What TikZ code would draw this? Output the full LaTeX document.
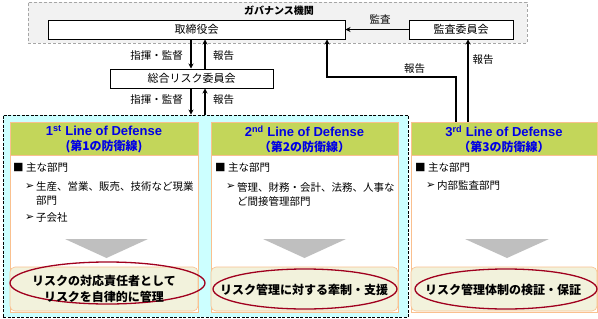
\documentclass[tikz,border=0pt]{standalone}
\usepackage{fontspec}
\setmainfont{Noto Sans CJK JP}
\newfontfamily\latinf{Liberation Sans}
\newfontfamily\dvf{DejaVu Sans}
\usetikzlibrary{arrows.meta,shapes.geometric}
\newcommand\fsz[2]{\fontsize{#1}{#2}\selectfont}
\definecolor{govfill}{RGB}{242,242,242}
\definecolor{govline}{RGB}{166,166,166}
\definecolor{regionfill}{RGB}{204,255,255}
\definecolor{orangeL}{RGB}{250,192,143}
\definecolor{hdrgreen}{RGB}{195,214,90}
\definecolor{hdrblue}{RGB}{0,0,230}
\definecolor{btmfill}{RGB}{242,242,220}
\definecolor{ellred}{RGB}{160,0,30}
\definecolor{trigray}{RGB}{191,191,191}
\begin{document}
\begin{tikzpicture}[x=1pt,y=-1pt,
  govbox/.style={draw=govline, dash pattern=on 3pt off 2pt, fill=govfill, line width=0.8pt, inner sep=0},
  bx/.style={draw, line width=1pt, fill=white, font=\fsz{11}{13}, inner sep=0},
  region/.style={draw, dash pattern=on 3pt off 1.5pt, line width=0.9pt, fill=regionfill, inner sep=0},
  colbox/.style={draw=orangeL, fill=white, line width=0.6pt, inner sep=0},
  hdr/.style={draw=orangeL, fill=hdrgreen, line width=0.6pt, inner sep=0},
  hdrtext/.style={text=hdrblue, font=\bfseries\fsz{12}{15}, align=center},
  btmbox/.style={draw=orangeL, fill=btmfill, rounded corners=5pt, line width=0.6pt, inner sep=0},
  ell/.style={draw=ellred, line width=1.3pt, ellipse, inner sep=0},
  btmtext/.style={font=\bfseries\fsz{12}{16}, align=center},
  arr/.style={-{Stealth[length=5pt,width=5pt]}, line width=1.4pt},
  lbl/.style={font=\fsz{10.5}{13}, inner sep=0},
  body/.style={font=\fsz{10.5}{13}, anchor=west, inner sep=0},
  tri/.style={fill=trigray}
]
\useasboundingbox (0,0) rectangle (598,319);

% governance
\node[govbox, minimum width=499pt, minimum height=41pt] (gov) at (277.5,22.5) {};
\node[font=\bfseries\fsz{10}{12}, inner sep=0] (govlbl) at (279,10.5) {ガバナンス機関};
\node[bx, minimum width=297pt, minimum height=19pt] (board) at (196.5,29.5) {取締役会};
\node[bx, minimum width=104pt, minimum height=19pt] (audit) at (461,29.5) {監査委員会};
\node[bx, minimum width=163pt, minimum height=19pt] (risk) at (191.5,78.5) {総合リスク委員会};

% region
\node[region, minimum width=405pt, minimum height=202pt] (region) at (205.5,216) {};

% columns
\node[colbox, minimum width=188pt, minimum height=190pt] (col1) at (104,217) {};
\node[colbox, minimum width=187pt, minimum height=190pt] (col2) at (304.5,217) {};
\node[colbox, minimum width=186pt, minimum height=190pt] (col3) at (504,217) {};
\node[hdr, minimum width=188pt, minimum height=33pt] (h1) at (104,138.5) {};
\node[hdr, minimum width=187pt, minimum height=33pt] (h2) at (304.5,138.5) {};
\node[hdr, minimum width=186pt, minimum height=33pt] (h3) at (504,138.5) {};
\node[hdrtext] (h1t) at (104,139) {{\latinf\fsz{13}{15}1\textsuperscript{st} Line of Defense}\\(第1の防衛線)};
\node[hdrtext] (h2t) at (304.5,139) {{\latinf\fsz{13}{15}2\textsuperscript{nd} Line of Defense}\\（第2の防衛線）};
\node[hdrtext] (h3t) at (504,139) {{\latinf\fsz{13}{15}3\textsuperscript{rd} Line of Defense}\\（第3の防衛線）};

% body texts
\node[body] (b1a) at (13,168) {■ 主な部門};
\node[body] (b1b) at (25,187) {{\dvf\fsz{11}{13}➢}};
\node[body] (b1c) at (36,187) {生産、営業、販売、技術など現業};
\node[body] (b1d) at (36,201) {部門};
\node[body] (b1e) at (25,218) {{\dvf\fsz{11}{13}➢}};
\node[body] (b1f) at (36,218) {子会社};

\node[body] (b2a) at (215,168) {■ 主な部門};
\node[body] (b2b) at (226,187) {{\dvf\fsz{11}{13}➢}};
\node[body] (b2c) at (237,187) {管理、財務・会計、法務、人事な};
\node[body] (b2d) at (237,201) {ど間接管理部門};

\node[body] (b3a) at (415,168) {■ 主な部門};
\node[body] (b3b) at (426,186) {{\dvf\fsz{11}{13}➢}};
\node[body] (b3c) at (437,186) {内部監査部門};

% triangles
\fill[tri] (65,239) -- (148,239) -- (106.5,258) -- cycle;
\fill[tri] (263,239) -- (346,239) -- (304.5,258) -- cycle;
\fill[tri] (465,239) -- (549,239) -- (507,258) -- cycle;

% bottom boxes
\node[btmbox, minimum width=188pt, minimum height=44pt] (bb1) at (104,289) {};
\node[btmbox, minimum width=187pt, minimum height=44pt] (bb2) at (304.5,289) {};
\node[btmbox, minimum width=186pt, minimum height=44pt] (bb3) at (504,289) {};
\node[ell, minimum width=195pt, minimum height=42pt] (e1) at (107.5,283) {};
\node[ell, minimum width=184pt, minimum height=40pt] (e2) at (305,289) {};
\node[ell, minimum width=182pt, minimum height=40pt] (e3) at (506,289) {};
\node[btmtext] (t1) at (104,289) {リスクの対応責任者として\\リスクを自律的に管理};
\node[btmtext] (t2) at (304,290) {リスク管理に対する牽制・支援};
\node[btmtext] (t3) at (503,290) {リスク管理体制の検証・保証};

% arrow columns
\coordinate (xd) at (191,0);
\coordinate (xu) at (205,0);
\coordinate (xa) at (456,0);
\coordinate (xb) at (327,0);
\coordinate (xc) at (468,0);
\coordinate (ybend) at (0,77);

\draw[arr] (board.south -| xd) -- (risk.north -| xd);
\draw[arr] (risk.north -| xu) -- (board.south -| xu);
\draw[arr] (risk.south -| xd) -- (region.north -| xd);
\draw[arr] (region.north -| xu) -- (risk.south -| xu);
\draw[arr] (audit.west) -- (board.east);
\draw[arr] (h3.north -| xa) -- (ybend -| xa) -- (ybend -| xb) -- (board.south -| xb);
\draw[arr] (h3.north -| xc) -- (audit.south -| xc);

% labels
\node[lbl, anchor=east] (l1) at (183,56) {指揮・監督};
\node[lbl, anchor=west] (l2) at (213,56) {報告};
\node[lbl, anchor=east] (l3) at (183,100) {指揮・監督};
\node[lbl, anchor=west] (l4) at (213,100) {報告};
\node[lbl] (l5) at (380,19) {監査};
\node[lbl] (l6) at (414.5,69) {報告};
\node[lbl] (l7) at (483,60) {報告};
\end{tikzpicture}
\end{document}
